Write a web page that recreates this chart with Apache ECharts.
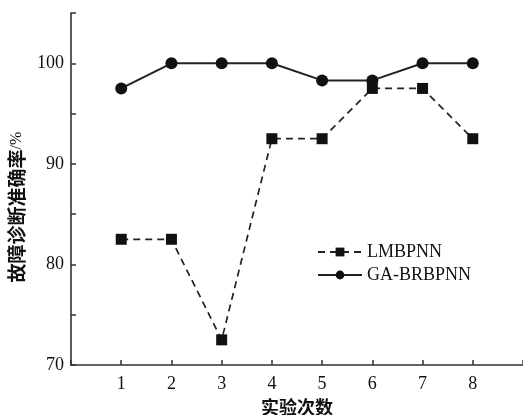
<!DOCTYPE html>
<html><head><meta charset="utf-8">
<script src="https://cdn.jsdelivr.net/npm/echarts@6/dist/echarts.min.js"></script>
<style>html,body{margin:0;padding:0;background:#fff}#c{width:523px;height:415px}</style>
</head><body><div id="c"></div>
<script>
const trials = [1, 2, 3, 4, 5, 6, 7, 8];
const lmbpnn = [82.5, 82.5, 72.5, 92.5, 92.5, 97.5, 97.5, 92.5];
const gabrbpnn = [97.5, 100, 100, 100, 98.3, 98.3, 100, 100];
const yTickLabels = [70, 80, 90, 100];
const seriesNames = ['LMBPNN', 'GA-BRBPNN'];
const xName = '实验次数';
const yName = '故障诊断准确率';

const chart = echarts.init(document.getElementById('c'));
const serif = '"Liberation Serif", "DejaVu Serif", serif';
const cjk = '"Noto Sans CJK SC", sans-serif';
const axisCol = '#333';
chart.setOption({
  animation: false,
  grid: { left: 71, right: 0, top: 13, bottom: 50, outerBoundsMode: 'none', containLabel: false },
  legend: {
    orient: 'vertical', left: 312, top: 238, itemWidth: 44, itemHeight: 11, itemGap: 5,
    textStyle: { fontFamily: serif, fontSize: 18, color: '#111' },
    data: seriesNames
  },
  xAxis: {
    type: 'value', min: 0, max: 9, interval: 1,
    name: xName, nameLocation: 'middle', nameGap: 31,
    nameTextStyle: { fontFamily: cjk, fontSize: 18, fontWeight: 'bold', color: '#111' },
    axisLine: { lineStyle: { color: axisCol, width: 1.6 } },
    axisTick: { inside: true, length: 5, lineStyle: { color: axisCol, width: 1.5 } },
    splitLine: { show: false },
    axisLabel: { fontFamily: serif, fontSize: 18, color: '#111', margin: 10,
      formatter: v => trials.includes(v) ? String(v) : '' }
  },
  yAxis: {
    type: 'value', min: 70, max: 105, interval: 5,
    name: '{a|' + yName + '}{b|/%}', nameLocation: 'middle', nameGap: 44, nameRotate: 90,
    nameTextStyle: { padding: [0, 36, 0, 0], rich: {
      a: { fontFamily: cjk, fontSize: 19, fontWeight: 'bold', color: '#111' },
      b: { fontFamily: serif, fontSize: 16, color: '#111' } } },
    axisLine: { lineStyle: { color: axisCol, width: 1.6 } },
    axisTick: { inside: true, length: 5, lineStyle: { color: axisCol, width: 1.5 } },
    splitLine: { show: false },
    axisLabel: { fontFamily: serif, fontSize: 18, color: '#111', margin: 7,
      formatter: v => yTickLabels.includes(v) ? String(v) : '' }
  },
  series: [
    { name: seriesNames[0], type: 'line', data: trials.map((t, i) => [t, lmbpnn[i]]),
      symbol: 'rect', symbolSize: 11, itemStyle: { color: '#111' },
      lineStyle: { color: '#222', width: 1.7, type: [7, 5] } },
    { name: seriesNames[1], type: 'line', data: trials.map((t, i) => [t, gabrbpnn[i]]),
      symbol: 'circle', symbolSize: 12, itemStyle: { color: '#111' },
      lineStyle: { color: '#222', width: 2 } }
  ]
});
</script></body></html>
